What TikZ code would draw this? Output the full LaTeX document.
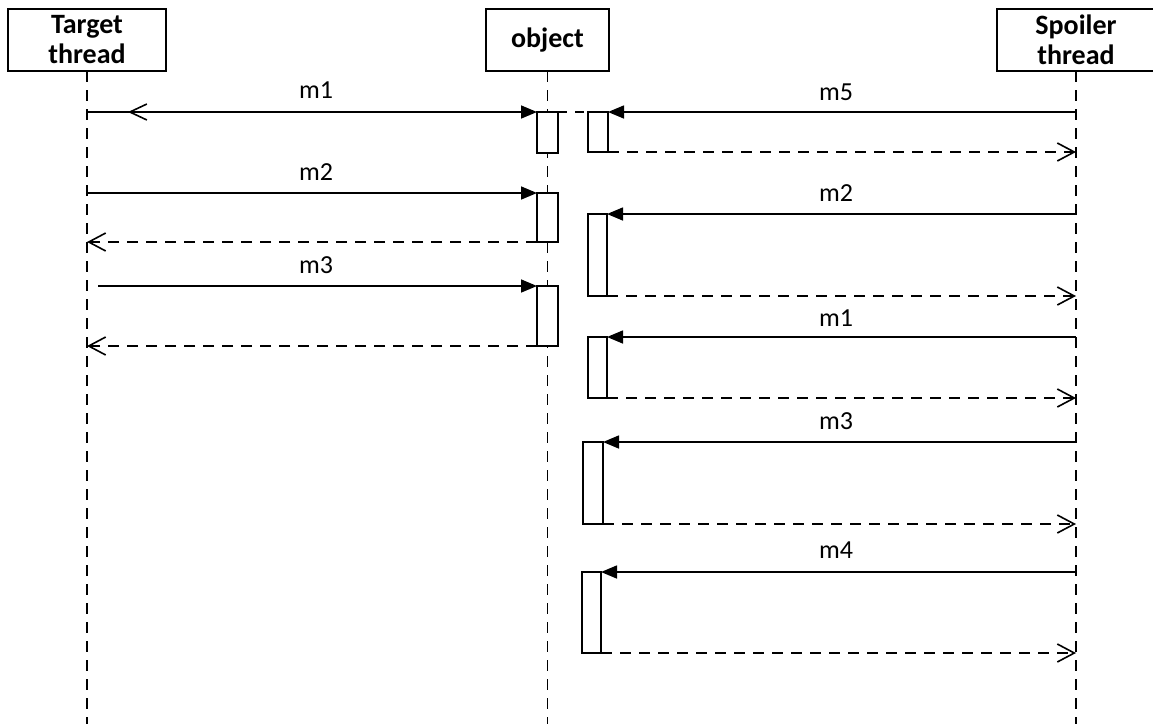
\documentclass[tikz,border=0pt]{standalone}
\usepackage{fontspec}
\setmainfont{Carlito}
\usetikzlibrary{arrows.meta}
\begin{document}
\begin{tikzpicture}[x=1pt,y=-1pt,
  every node/.style={inner sep=0pt, outer sep=0pt},
  lw/.style={line width=1.6pt},
  header/.style={draw, lw, minimum height=62pt, align=center, font=\fontsize{28}{30}\selectfont\bfseries},
  lifeline/.style={lw, dash pattern=on 11pt off 8pt},
  act/.style={draw, lw, fill=white},
  msg/.style={lw, -{Triangle[length=16pt,width=13pt]}},
  ret/.style={lw, dash pattern=on 11pt off 8pt, -{Straight Barb[length=17pt,width=18pt]}},
  lbl/.style={font=\fontsize{26}{30}\selectfont}
]
\useasboundingbox (0,0) rectangle (1153,724);
\clip (0,0) rectangle (1153,724);

% headers
\node[header, minimum width=158pt] (T) at (87,40) {Target\\thread};
\node[header, minimum width=123pt] (O) at (547.5,40) {object};
\node[header, minimum width=158pt] (S) at (1076,40) {Spoiler\\thread};

% lifelines
\coordinate (Tend) at (87,724);
\coordinate (Oend) at (547.5,724);
\coordinate (Send) at (1076,724);
\draw[lifeline] (T.south) -- (Tend);
\draw[lifeline] (O.south) -- (Oend);
\draw[lifeline] (S.south) -- (Send);

% activation boxes (left of object)
\node[act, minimum width=21pt, minimum height=41pt, anchor=north west] (a1) at (537,112) {};
\node[act, minimum width=21pt, minimum height=49pt, anchor=north west] (a2) at (537,193) {};
\node[act, minimum width=21pt, minimum height=60pt, anchor=north west] (a3) at (537,286) {};
% activation boxes (spoiler side)
\node[act, minimum width=20pt, minimum height=40pt, anchor=north west] (b1) at (588,112) {};
\node[act, minimum width=19pt, minimum height=82pt, anchor=north west] (b2) at (588,214) {};
\node[act, minimum width=19pt, minimum height=61pt, anchor=north west] (b3) at (588,337) {};
\node[act, minimum width=20pt, minimum height=82pt, anchor=north west] (b4) at (583,442) {};
\node[act, minimum width=19pt, minimum height=81pt, anchor=north west] (b5) at (582,572) {};

% lifeline points
\coordinate (t1) at (87,112);
\coordinate (t1a) at (146,112);
\coordinate (t1b) at (128,112);
\coordinate (t2) at (87,193);
\coordinate (t2r) at (87,242);
\coordinate (t3) at (98,286);
\coordinate (t3r) at (87,346);
\coordinate (s1) at (1076,112);
\coordinate (s1r) at (1076,152);
\coordinate (s2) at (1076,214);
\coordinate (s2r) at (1076,296);
\coordinate (s3) at (1076,337);
\coordinate (s3r) at (1076,398);
\coordinate (s4) at (1076,442);
\coordinate (s4r) at (1076,524);
\coordinate (s5) at (1076,572);
\coordinate (s5r) at (1076,653);

% target thread messages
\draw[msg] (t1) -- (a1.north west);
\draw[lw, -{Straight Barb[length=17pt,width=16pt]}] (t1a) -- (t1b);
\draw[lw, dash pattern=on 9pt off 8pt] (a1.north east) -- (b1.north west);
\draw[msg] (t2) -- (a2.north west);
\draw[ret] (a2.south west) -- (t2r);
\draw[msg] (t3) -- (a3.north west);
\draw[ret] (a3.south west) -- (t3r);

% spoiler thread messages
\draw[msg] (s1) -- (b1.north east);
\draw[ret] (b1.south east) -- (s1r);
\draw[msg] (s2) -- (b2.north east);
\draw[ret] (b2.south east) -- (s2r);
\draw[msg] (s3) -- (b3.north east);
\draw[ret] (b3.south east) -- (s3r);
\draw[msg] (s4) -- (b4.north east);
\draw[ret] (b4.south east) -- (s4r);
\draw[msg] (s5) -- (b5.north east);
\draw[ret] (b5.south east) -- (s5r);

% labels
\node[lbl] (l1) at (316,90) {m1};
\node[lbl] (l2) at (316,172) {m2};
\node[lbl] (l3) at (316,265) {m3};
\node[lbl] (r5) at (836,92) {m5};
\node[lbl] (r2) at (836,193) {m2};
\node[lbl] (r1) at (836,318) {m1};
\node[lbl] (r3) at (836,421) {m3};
\node[lbl] (r4) at (836,550) {m4};
\end{tikzpicture}
\end{document}
